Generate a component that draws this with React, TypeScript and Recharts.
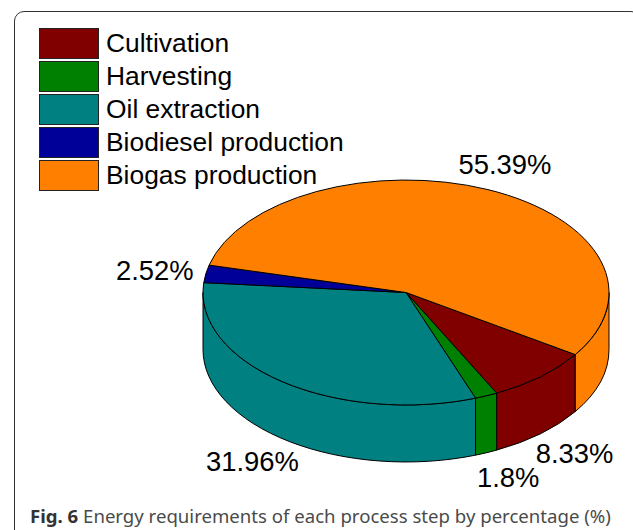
import { PieChart, Pie, Legend } from "recharts";

const processes = ["Cultivation", "Harvesting", "Oil extraction", "Biodiesel production", "Biogas production"];
const shares = [8.33, 1.8, 31.96, 2.52, 55.39];
const colors = ["#800000", "#008000", "#008080", "#000099", "#ff8000"];

const chartData = processes.map((name, i) => ({ name, value: shares[i], fill: colors[i] }));

// the pie is tilted, so the top face is a squashed circle with a wall under it
const TILT = 0.554;
const DEPTH = 57;
const RAD = Math.PI / 180;

// nudge of each label away from the rim point at its mid angle
const labelNudges = [
  { dx: 34, dy: 77 },
  { dx: 22, dy: 82 },
  { dx: -30, dy: 80 },
  { dx: -51, dy: -3 },
  { dx: 17, dy: -25 },
];

function SlantedSlice(props: any) {
  const { cx, cy, outerRadius, startAngle, endAngle, fill } = props;
  const rx = outerRadius;
  const ry = outerRadius * TILT;
  // recharts angles run counter clockwise, on screen y goes down
  const px = (a: number) => cx + rx * Math.cos(-a * RAD);
  const py = (a: number) => cy + ry * Math.sin(-a * RAD);

  const from = startAngle;
  const to = endAngle;
  const large = Math.abs(to - from) > 180 ? 1 : 0;
  const top = `M${cx},${cy}L${px(from)},${py(from)}A${rx},${ry} 0 ${large} 1 ${px(to)},${py(to)}Z`;

  // wall is only seen on the front half, -180..0 in recharts angles
  const walls: any[] = [];
  const ranges = [
    [from, to],
    [from + 360, to + 360],
    [from - 360, to - 360],
  ];
  ranges.forEach(([a, b], i) => {
    const hi = Math.min(a, 0);
    const lo = Math.max(b, -180);
    if (hi > lo) {
      const d =
        `M${px(hi)},${py(hi)}A${rx},${ry} 0 0 1 ${px(lo)},${py(lo)}` +
        `L${px(lo)},${py(lo) + DEPTH}A${rx},${ry} 0 0 0 ${px(hi)},${py(hi) + DEPTH}Z`;
      walls.push(<path key={i} d={d} fill={fill} stroke="#000" strokeWidth={1} />);
    }
  });

  return (
    <g>
      {walls}
      <path d={top} fill={fill} stroke="#000" strokeWidth={1} />
    </g>
  );
}

function PercentLabel(props: any) {
  const { cx, cy, outerRadius, midAngle, value, index } = props;
  const nudge = labelNudges[index];
  const x = cx + outerRadius * Math.cos(-midAngle * RAD) + nudge.dx;
  const y = cy + outerRadius * TILT * Math.sin(-midAngle * RAD) + nudge.dy;
  return (
    <text x={x} y={y} textAnchor="middle" dominantBaseline="central" fontFamily="Liberation Sans" fontSize={27.4} fill="#000">
      {value}%
    </text>
  );
}

function LegendBox(props: any) {
  const items = props.payload || [];
  return (
    <div>
      {items.map((item: any) => (
        <div key={item.value} style={{ display: "flex", alignItems: "center", height: 33 }}>
          <span style={{ width: 58, height: 29, background: item.color, border: "1px solid #222", marginRight: 7 }} />
          <span style={{ fontFamily: "Liberation Sans", fontSize: 26.4, color: "#000" }}>{item.value}</span>
        </div>
      ))}
    </div>
  );
}

export default function App() {
  return (
    <div style={{ position: "absolute", left: 0, top: 0, width: 633, height: 530, overflow: "hidden", background: "#fff" }}>
      <div
        style={{
          position: "absolute",
          left: 14,
          top: 11,
          width: 625,
          height: 540,
          border: "1.5px solid #333",
          borderRadius: 10,
        }}
      />
      <PieChart
        width={633}
        height={530}
        margin={{ top: 0, right: 0, bottom: 0, left: 0 }}
        style={{ position: "absolute", left: 0, top: 0 }}
      >
        <Pie
          data={chartData}
          dataKey="value"
          nameKey="name"
          cx={406}
          cy={292.5}
          outerRadius={203}
          startAngle={-33.5}
          endAngle={-393.5}
          paddingAngle={0}
          stroke="#000"
          shape={SlantedSlice}
          label={PercentLabel}
          labelLine={false}
          isAnimationActive={false}
        />
        <Legend
          layout="vertical"
          align="center"
          verticalAlign="middle"
          itemSorter={null}
          wrapperStyle={{ left: 39, top: 27, width: 320 }}
          content={LegendBox}
        />
      </PieChart>
      <div
        style={{
          position: "absolute",
          left: 30,
          top: 503,
          fontFamily: "Noto Sans",
          fontSize: 18.6,
          color: "#4a4a4a",
          whiteSpace: "nowrap",
        }}
      >
        <b style={{ color: "#333" }}>Fig. 6</b> Energy requirements of each process step by percentage (%)
      </div>
    </div>
  );
}
